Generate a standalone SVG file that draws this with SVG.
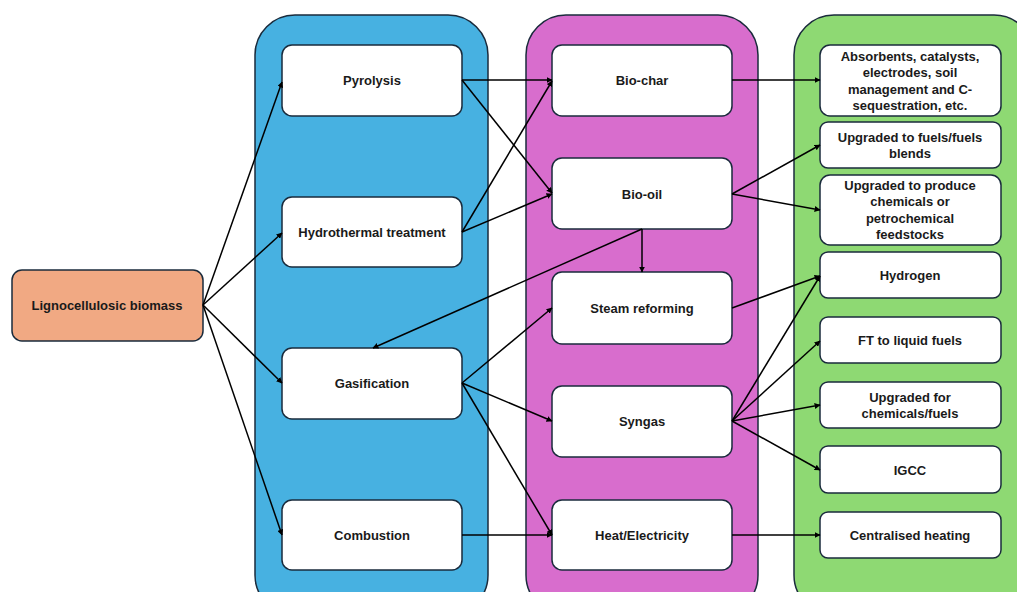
<svg xmlns="http://www.w3.org/2000/svg" width="1017" height="592" viewBox="0 0 1017 592">
<style>
.cont{stroke:#1a2b3c;stroke-width:1.5}
.box{fill:#ffffff;stroke:#1a2b3c;stroke-width:1.5}
.t{font-family:"Liberation Sans",Arial,sans-serif;font-weight:bold;font-size:13px;fill:#1a1a1a;text-anchor:middle}
.c line{stroke:#000;stroke-width:1.5;marker-end:url(#ah)}
</style>
<defs>
<marker id="ah" viewBox="0 0 10 10" refX="9" refY="5" markerWidth="6" markerHeight="6" markerUnits="userSpaceOnUse" orient="auto">
<path d="M0,0 L10,5 L0,10 z" fill="#000"/>
</marker>
</defs>
<rect fill="#ffffff" x="0" y="0" width="1017" height="592"/>
<g id="containers">
<rect class="cont" x="255" y="15" width="233" height="600" rx="40" fill="#47B1E1"/>
<rect class="cont" x="526" y="15" width="232" height="600" rx="40" fill="#D86DCD"/>
<rect class="cont" x="794" y="15" width="240" height="600" rx="40" fill="#8ED973"/>
</g>
<g id="ligno"><rect x="12" y="270" width="191" height="71" rx="10" fill="#F1A983" stroke="#1a2b3c" stroke-width="1.5"/><text class="t" x="107" y="310">Lignocellulosic biomass</text></g>
<g id="pyrolysis"><rect class="box" x="282" y="45" width="180" height="71" rx="10"/><text class="t" x="372" y="85">Pyrolysis</text></g>
<g id="hydrothermal"><rect class="box" x="282" y="197" width="180" height="70" rx="10"/><text class="t" x="372" y="237">Hydrothermal treatment</text></g>
<g id="gasification"><rect class="box" x="282" y="348" width="180" height="71" rx="10"/><text class="t" x="372" y="388">Gasification</text></g>
<g id="combustion"><rect class="box" x="282" y="500" width="180" height="70" rx="10"/><text class="t" x="372" y="540">Combustion</text></g>
<g id="biochar"><rect class="box" x="552" y="45" width="180" height="71" rx="10"/><text class="t" x="642" y="85">Bio-char</text></g>
<g id="biooil"><rect class="box" x="552" y="158" width="180" height="71" rx="10"/><text class="t" x="642" y="199">Bio-oil</text></g>
<g id="steam"><rect class="box" x="552" y="272" width="180" height="72" rx="10"/><text class="t" x="642" y="313">Steam reforming</text></g>
<g id="syngas"><rect class="box" x="552" y="386" width="180" height="71" rx="10"/><text class="t" x="642" y="426">Syngas</text></g>
<g id="heat"><rect class="box" x="552" y="500" width="180" height="70" rx="10"/><text class="t" x="642" y="540">Heat/Electricity</text></g>
<g id="absorbents"><rect class="box" x="820" y="45" width="181" height="71" rx="10"/><text class="t" x="910" y="61">Absorbents, catalysts,</text><text class="t" x="910" y="77">electrodes, soil</text><text class="t" x="910" y="94">management and C-</text><text class="t" x="910" y="110">sequestration, etc.</text></g>
<g id="upfuels"><rect class="box" x="820" y="122" width="181" height="46" rx="8"/><text class="t" x="910" y="142">Upgraded to fuels/fuels</text><text class="t" x="910" y="158">blends</text></g>
<g id="upchem"><rect class="box" x="820" y="175" width="181" height="70" rx="10"/><text class="t" x="910" y="190">Upgraded to produce</text><text class="t" x="910" y="206">chemicals or</text><text class="t" x="910" y="223">petrochemical</text><text class="t" x="910" y="239">feedstocks</text></g>
<g id="hydrogen"><rect class="box" x="820" y="252" width="181" height="46" rx="8"/><text class="t" x="910" y="280">Hydrogen</text></g>
<g id="ft"><rect class="box" x="820" y="317" width="181" height="46" rx="8"/><text class="t" x="910" y="345">FT to liquid fuels</text></g>
<g id="upfor"><rect class="box" x="820" y="382" width="181" height="46" rx="8"/><text class="t" x="910" y="402">Upgraded for</text><text class="t" x="910" y="418">chemicals/fuels</text></g>
<g id="igcc"><rect class="box" x="820" y="446" width="181" height="47" rx="8"/><text class="t" x="910" y="475">IGCC</text></g>
<g id="central"><rect class="box" x="820" y="512" width="181" height="46" rx="8"/><text class="t" x="910" y="540">Centralised heating</text></g>
<g id="connectors" class="c">
<line x1="203" y1="305" x2="282" y2="82"/>
<line x1="203" y1="305" x2="282" y2="233"/>
<line x1="203" y1="305" x2="282" y2="383"/>
<line x1="203" y1="305" x2="282" y2="535"/>
<line x1="462" y1="80" x2="552" y2="80"/>
<line x1="462" y1="80" x2="552" y2="193"/>
<line x1="462" y1="232" x2="552" y2="81"/>
<line x1="462" y1="232" x2="552" y2="194"/>
<line x1="642" y1="229" x2="642" y2="272"/>
<line x1="642" y1="229" x2="373" y2="348"/>
<line x1="462" y1="383" x2="552" y2="308"/>
<line x1="462" y1="383" x2="552" y2="421"/>
<line x1="462" y1="383" x2="552" y2="535"/>
<line x1="462" y1="535" x2="552" y2="535"/>
<line x1="732" y1="80" x2="820" y2="80"/>
<line x1="732" y1="194" x2="820" y2="145"/>
<line x1="732" y1="194" x2="820" y2="210"/>
<line x1="732" y1="308" x2="820" y2="276"/>
<line x1="732" y1="421" x2="820" y2="276"/>
<line x1="732" y1="421" x2="820" y2="341"/>
<line x1="732" y1="421" x2="820" y2="405"/>
<line x1="732" y1="421" x2="820" y2="470"/>
<line x1="732" y1="535" x2="820" y2="535"/>
</g>
</svg>
